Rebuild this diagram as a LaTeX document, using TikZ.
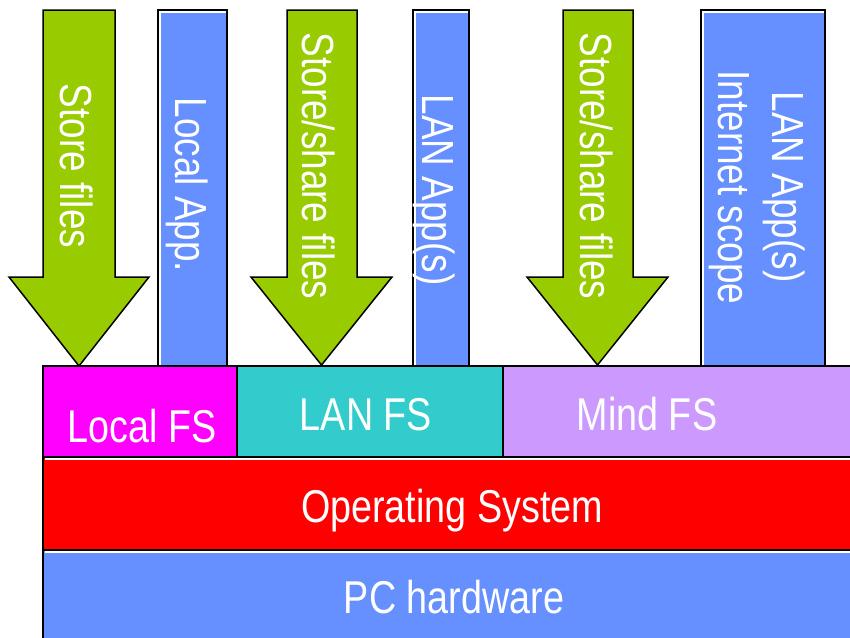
\documentclass[tikz,border=0pt]{standalone}
\usepackage{fontspec}
\newfontfamily\nf[FakeStretch=0.82]{Liberation Sans}
\definecolor{agreen}{HTML}{99CC00}
\definecolor{ablue}{HTML}{6690FF}
\definecolor{magfs}{HTML}{FF00FF}
\definecolor{tealfs}{HTML}{33CCCC}
\definecolor{lavfs}{HTML}{CC99FF}
\definecolor{osred}{HTML}{FF0000}
\begin{document}
\begin{tikzpicture}[x=1pt,y=-1pt,
  blk/.style={draw=black, line width=2pt, inner sep=0pt, outer sep=0pt, anchor=north west},
  bigarrow/.style={fill=agreen, draw=black, line width=1.5pt, line join=miter},
  vtxt/.style={text=white, font=\nf\fontsize{45}{54}\selectfont, rotate=-90, inner sep=0pt, anchor=base},
  htxt/.style={text=white, font=\nf\fontsize{46}{54}\selectfont, inner sep=0pt, anchor=base},
  hl/.style={draw=white, line width=1.4pt}]

\useasboundingbox (0,0) rectangle (850,637);
\clip (0,0) rectangle (850,637);

% layers
\node[blk, fill=osred, minimum width=819pt, minimum height=93pt] (os) at (43,457) {};
\node[blk, fill=ablue, minimum width=819pt, minimum height=100pt] (pc) at (43,550) {};
\node[blk, fill=magfs, minimum width=194pt, minimum height=91pt] (localfs) at (43,366) {};
\node[blk, fill=tealfs, minimum width=266pt, minimum height=91pt] (lanfs) at (237,366) {};
\node[blk, fill=lavfs, minimum width=359pt, minimum height=91pt] (mindfs) at (503,366) {};
\draw[hl] (44.5,458.9) -- (862,458.9);
\draw[hl] (44.5,551.9) -- (862,551.9);

% application boxes
\node[blk, fill=ablue, minimum width=69pt, minimum height=356pt] (app1) at (158,10) {};
\node[blk, fill=ablue, minimum width=56pt, minimum height=356pt] (app2) at (413,10) {};
\node[blk, fill=ablue, minimum width=124pt, minimum height=356pt] (app3) at (701,10) {};
\draw[hl] (159.9,365) -- (159.9,11.9) -- (226,11.9);
\draw[hl] (414.9,365) -- (414.9,11.9) -- (468,11.9);
\draw[hl] (702.9,365) -- (702.9,11.9) -- (824,11.9);

% block arrows
\draw[bigarrow] (43,10) -- (115,10) -- (115,277) -- (149,277) -- (79,366) -- (9,277) -- (43,277) -- cycle;
\draw[bigarrow] (287,10) -- (357,10) -- (357,277) -- (392,277) -- (321.5,365) -- (251,277) -- (287,277) -- cycle;
\draw[bigarrow] (563,10) -- (633,10) -- (633,277) -- (668,277) -- (597.5,365) -- (527,277) -- (563,277) -- cycle;

% vertical texts
\node[vtxt] (t1) at (60,166) {Store files};
\node[vtxt] (t2) at (175,185) {Local App.};
\node[vtxt] (t3) at (302,166) {Store/share files};
\node[vtxt] (t4) at (422,190) {LAN App(s)};
\node[vtxt] (t5) at (580,166) {Store/share files};
\node[vtxt] (t6a) at (772,187) {LAN App(s)};
\node[vtxt] (t6b) at (718,187.5) {Internet scope};

% layer texts
\node[htxt] (l1) at (142,442) {Local FS};
\node[htxt] (l2) at (366,430) {LAN FS};
\node[htxt] (l3) at (647,430) {Mind FS};
\node[htxt] (l4) at (452,522) {Operating System};
\node[htxt] (l5) at (454,613) {PC hardware};
\end{tikzpicture}
\end{document}
